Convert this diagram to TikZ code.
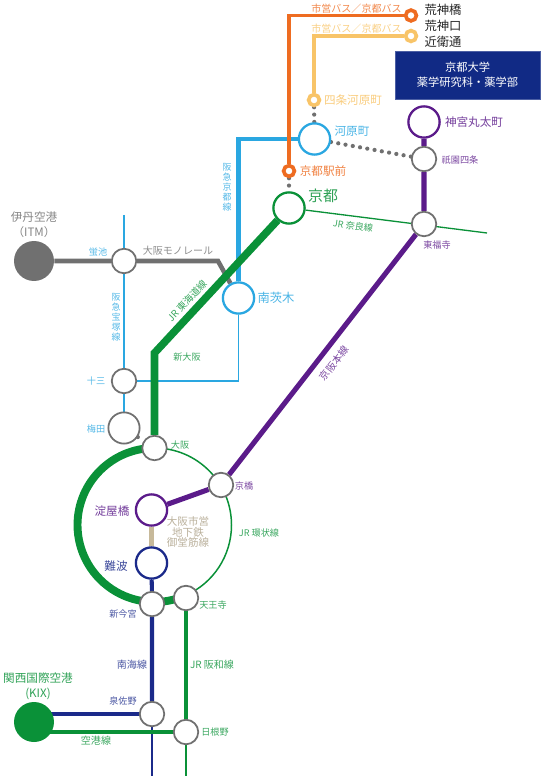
\documentclass[tikz,border=0pt]{standalone}
\usepackage{fontspec}
\setmainfont{Noto Sans CJK JP}
\usetikzlibrary{positioning, backgrounds, calc}
\definecolor{jrgreen}{HTML}{0A9138}
\definecolor{navyline}{HTML}{1B2A8A}
\definecolor{kyodaiblue}{HTML}{112A85}
\definecolor{keihan}{HTML}{5B1B8A}
\definecolor{hankyu}{HTML}{2AA7E1}
\definecolor{busorange}{HTML}{EE6C21}
\definecolor{busyellow}{HTML}{F8C468}
\definecolor{stngray}{HTML}{707070}
\definecolor{subwaybeige}{HTML}{C7B99A}

\begin{document}
\begin{tikzpicture}[
    x=0.02cm, y=-0.02cm,
    stn/.style={circle, draw=stngray, fill=white, line width=1pt, inner sep=0pt,
                minimum size=0.49cm},
    bigstn/.style={circle, fill=white, line width=1.3pt, inner sep=0pt,
                   minimum size=0.625cm},
    busstop/.style={circle, fill=white, line width=2.1pt, inner sep=0pt,
                    minimum size=0.215cm},
    airport/.style={circle, inner sep=0pt, minimum size=0.8cm},
    walk/.style={stngray, line width=2.4pt, line cap=round, dash pattern=on 0pt off 4.2pt},
    tiny/.style={font=\fontsize{5.2pt}{6.4pt}\selectfont, inner sep=0pt, align=center, text opacity=0.8},
    small/.style={font=\fontsize{5.7pt}{6.9pt}\selectfont, inner sep=0pt, align=center, text opacity=0.8},
    med/.style={font=\fontsize{6.6pt}{8.6pt}\selectfont, inner sep=0pt, align=center, text opacity=0.85},
    big/.style={font=\fontsize{8.5pt}{10pt}\selectfont, inner sep=0pt, align=center, text opacity=0.85},
    vert/.style={font=\fontsize{5.1pt}{5.7pt}\selectfont, inner sep=0pt, align=center, text opacity=0.8}
]
\useasboundingbox (0,0) rectangle (540,776);

% Bus stops
\node[busstop, draw=busorange] (arashin) at (411, 15.5) {};
\node[busstop, draw=busyellow] (konoe)   at (411, 36) {};
\node[busstop, draw=busyellow] (shijo)   at (314, 100) {};
\node[busstop, draw=busorange] (ekimae)  at (289, 171) {};

% Large stations
\node[bigstn, draw=hankyu]   (kawara)  at (314.5, 139) {};
\node[bigstn, draw=jrgreen]  (kyoto)   at (289, 208) {};
\node[bigstn, draw=keihan]   (marutamachi) at (424, 122) {};
\node[bigstn, draw=hankyu]   (ibaraki) at (238.5, 298) {};
\node[bigstn, draw=keihan]   (yodoya)  at (151.5, 510) {};
\node[bigstn, draw=navyline] (namba)   at (151.5, 563) {};
\node[bigstn, draw=stngray, line width=1pt] (umeda) at (124, 428) {};

% Small stations
\node[stn] (gion)    at (424, 159) {};
\node[stn] (tofukuji) at (424, 224) {};
\node[stn] (hotaru)  at (124, 261) {};
\node[stn] (juso)    at (124, 381) {};
\node[stn] (osaka)   at (154.5, 448) {};
\node[stn] (kyobashi) at (221, 485) {};
\node[stn] (shinima) at (152, 604) {};
\node[stn] (tennoji) at (186, 598) {};
\node[stn] (sano)    at (152, 714) {};
\node[stn] (hine)    at (186, 732) {};

% Airports
\node[airport, fill=stngray] (itm) at (34, 261) {};
\node[airport, fill=jrgreen] (kix) at (34, 722) {};

% Free ends and bends
\coordinate (narawest) at (487, 233);
\coordinate (takatop)  at (124, 215);
\coordinate (monobend) at (218, 261);
\coordinate (tokaibend) at (154.5, 353);
\coordinate (nankaiend) at (152, 776);
\coordinate (hanwaend) at (186, 776);

\begin{scope}[on background layer]
% Thin lines
\draw[hankyu, line width=1pt] (takatop) -- (juso) -- (umeda);
\draw[hankyu, line width=1pt] (ibaraki) |- (juso);
\draw[jrgreen, line width=0.75pt] (kyoto) -- (narawest);
\draw[navyline, line width=1pt] (sano) -- (nankaiend);
\draw[jrgreen, line width=1pt] (hine) -- (hanwaend);

% Monorail
\draw[stngray, line width=2.6pt] (itm) -- (hotaru) -- (monobend) -- (ibaraki);

% Hankyu Kyoto
\draw[hankyu, line width=2.7pt] (kawara) -| (ibaraki);

% Walking links
\draw[walk] (kawara) -- (gion);
\draw[walk] (shijo) -- (kawara);
\draw[walk] (ekimae) -- (kyoto);
\draw[walk] (umeda) -- (osaka);

% Bus
\draw[busyellow, line width=2.1pt] (konoe) -| (shijo);
\draw[busorange, line width=2.1pt] (arashin) -| (ekimae);

% JR
\draw[jrgreen, line width=4.3pt, line join=miter] (kyoto) -- (tokaibend) -- (osaka);
\draw[jrgreen, line width=4.5pt] (osaka.center) arc[start angle=270, end angle=66, radius=77];
\draw[jrgreen, line width=0.85pt] (osaka.center) arc[start angle=270, end angle=426, radius=77];
\draw[jrgreen, line width=2.2pt] (tennoji) -- (hine);
\draw[jrgreen, line width=2.2pt] (kix.center |- hine) -- (hine);

% Keihan and subway
\draw[keihan, line width=2.9pt] (marutamachi) -- (gion) -- (tofukuji) -- (kyobashi);
\draw[keihan, line width=2.9pt] (yodoya) -- (kyobashi);
\draw[subwaybeige, line width=2.7pt] (yodoya) -- (namba);

% Nankai
\draw[navyline, line width=2.3pt] (namba) -- (shinima) -- (sano);
\draw[navyline, line width=2.3pt] (kix.center |- sano) -- (sano);
\end{scope}

% University box
\node[draw=kyodaiblue!75!white, fill=kyodaiblue, text=white, minimum width=2.9cm, minimum height=0.96cm,
      inner sep=0pt, align=center, font=\fontsize{6.4pt}{8.6pt}\selectfont] (kyodai) at (467.5, 75)
      {京都大学\\薬学研究科・薬学部};

% Labels top right
\node[small, text=busorange] (buslabela) at (356.5, 8.5) {市営バス／京都バス};
\node[small, text=busyellow] (buslabelb) at (356.5, 29) {市営バス／京都バス};
\node[med, font=\fontsize{7pt}{8pt}\selectfont] (arashinlabel) at (443, 10) {荒神橋};
\node[med, font=\fontsize{7pt}{8pt}\selectfont] (kojinlabel) at (443, 25.5) {荒神口};
\node[med, font=\fontsize{7pt}{8pt}\selectfont] (konoelabel) at (443, 42) {近衛通};
\node[med, text=busyellow] (shijolabel) at (353, 100) {四条河原町};
\node[med, text=hankyu] (kawaralabel) at (352, 131) {河原町};
\node[med, text=busorange] (ekimaelabel) at (323, 171) {京都駅前};
\node[big, text=jrgreen] (kyotolabel) at (323, 196) {京都};
\node[tiny, text=jrgreen, rotate=-8] (naralabel) at (353, 226) {JR 奈良線};
\node[med, text=keihan] (marutalabel) at (474, 122.5) {神宮丸太町};
\node[tiny, text=keihan] (gionlabel) at (460, 160) {祇園四条};
\node[tiny, text=keihan] (tofukulabel) at (437, 245) {東福寺};

% Labels left
\node[vert, text=hankyu] (kyotolinelabel) at (227, 187) {阪\\急\\京\\都\\線};
\node[med, text=stngray] (itmlabela) at (34, 217) {伊丹空港};
\node[med, text=stngray] (itmlabelb) at (34, 232) {（ITM）};
\node[tiny, text=hankyu] (hotarulabel) at (98, 252) {蛍池};
\node[small, text=stngray] (monolabel) at (178, 251) {大阪モノレール};
\node[vert, text=hankyu] (takalabel) at (116, 317) {阪\\急\\宝\\塚\\線};
\node[med, text=hankyu, font=\fontsize{7pt}{8pt}\selectfont] (ibarakilabel) at (276, 298) {南茨木};
\node[small, text=jrgreen, rotate=47, font=\fontsize{5.5pt}{6.9pt}\selectfont] (tokailabel) at (187, 301) {JR 東海道線};
\node[tiny, text=jrgreen] (shinosakalabel) at (187, 357) {新大阪};
\node[tiny, text=hankyu] (jusolabel) at (96, 381) {十三};
\node[tiny, text=hankyu] (umedalabel) at (96, 429) {梅田};
\node[small, text=keihan, rotate=53] (keihanlabel) at (334, 363) {京阪本線};

% Labels loop
\node[tiny, text=jrgreen] (osakalabel) at (180, 445) {大阪};
\node[tiny, text=keihan] (kyobashilabel) at (244, 486) {京橋};
\node[med, text=keihan] (yodoyalabel) at (112, 511) {淀屋橋};
\node[small, text=subwaybeige!85!black, font=\fontsize{6pt}{6.2pt}\selectfont] (midolabel) at (188, 532)
     {大阪市営\\地下鉄\\御堂筋線};
\node[tiny, text=jrgreen] (looplabel) at (259, 533) {JR 環状線};
\node[med, text=navyline] (nambalabel) at (116, 566) {難波};
\node[tiny, text=navyline] (shinimalabel) at (123, 614) {新今宮};
\node[tiny, text=jrgreen] (tennojilabel) at (213, 605) {天王寺};

% Labels bottom
\node[small, text=navyline] (nankailabel) at (132, 665) {南海線};
\node[small, text=jrgreen] (hanwalabel) at (212, 665) {JR 阪和線};
\node[med, text=jrgreen] (kixlabela) at (38, 678) {関西国際空港};
\node[med, text=jrgreen] (kixlabelb) at (38, 694) {(KIX)};
\node[tiny, text=navyline] (sanolabel) at (123, 701) {泉佐野};
\node[small, text=jrgreen] (airportlabel) at (96, 741) {空港線};
\node[tiny, text=jrgreen] (hinelabel) at (215, 732) {日根野};

\end{tikzpicture}
\end{document}
